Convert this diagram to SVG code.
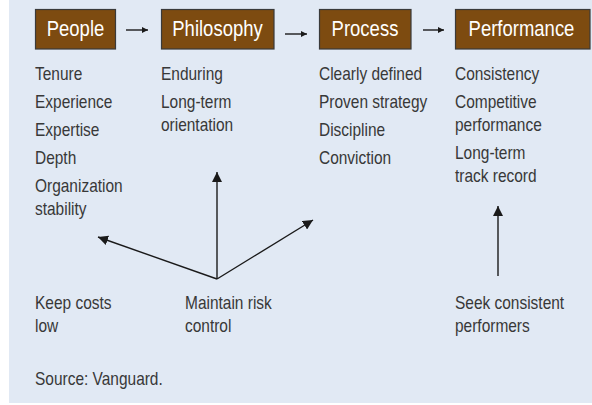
<svg xmlns="http://www.w3.org/2000/svg" width="592" height="405" viewBox="0 0 592 405">
  <style>
    .box { fill: #7d4b10; stroke: #3a3a3a; stroke-width: 1.2; }
    .title { font-family: "Liberation Sans", Arial, sans-serif; font-size: 21.5px; fill: #ffffff; text-anchor: middle; }
    .txt { font-family: "Liberation Sans", Arial, sans-serif; font-size: 18px; fill: #383838; }
    .small { stroke: #1a1a1a; stroke-width: 1.4; fill: none; }
    .link { stroke: #1a1a1a; stroke-width: 1.4; fill: none; }
  </style>
  <defs>
    <marker id="tip" viewBox="0 0 10 10" refX="10" refY="5" markerWidth="10" markerHeight="10" markerUnits="userSpaceOnUse" orient="auto">
      <path d="M0,0 L10,5 L0,10 Z" fill="#1a1a1a"/>
    </marker>
    <marker id="tipSmall" viewBox="0 0 10 10" refX="10" refY="5" markerWidth="7" markerHeight="6" markerUnits="userSpaceOnUse" orient="auto">
      <path d="M0,0 L10,5 L0,10 Z" fill="#1a1a1a"/>
    </marker>
  </defs>

  <!-- panel background -->
  <rect x="0" y="0" width="592" height="405" fill="#ffffff"/>
  <rect x="9" y="0" width="583" height="403" fill="#e1e9f4"/>

  <!-- text is set in a condensed face: horizontal scale 0.86, so x values are divided by 0.86 -->
  <g id="people">
    <rect class="box" x="35.5" y="9.5" width="80" height="39.5"/>
    <g transform="scale(0.86 1)">
      <text class="title" x="87.79" y="36">People</text>
      <text class="txt" x="40.70" y="80">Tenure</text>
      <text class="txt" x="40.70" y="108">Experience</text>
      <text class="txt" x="40.70" y="136">Expertise</text>
      <text class="txt" x="40.70" y="164">Depth</text>
      <text class="txt" x="40.70" y="192">Organization</text>
      <text class="txt" x="40.70" y="215">stability</text>
    </g>
  </g>

  <g id="philosophy">
    <rect class="box" x="161.5" y="9.5" width="112.5" height="39.5"/>
    <g transform="scale(0.86 1)">
      <text class="title" x="252.91" y="36">Philosophy</text>
      <text class="txt" x="187.21" y="80">Enduring</text>
      <text class="txt" x="187.21" y="108">Long-term</text>
      <text class="txt" x="187.21" y="131">orientation</text>
    </g>
  </g>

  <g id="process">
    <rect class="box" x="319.5" y="9.5" width="91.5" height="39.5"/>
    <g transform="scale(0.86 1)">
      <text class="title" x="424.42" y="36">Process</text>
      <text class="txt" x="370.93" y="80">Clearly defined</text>
      <text class="txt" x="370.93" y="108">Proven strategy</text>
      <text class="txt" x="370.93" y="136">Discipline</text>
      <text class="txt" x="370.93" y="164">Conviction</text>
    </g>
  </g>

  <g id="performance">
    <rect class="box" x="455.5" y="9.5" width="134.5" height="39.5"/>
    <g transform="scale(0.86 1)">
      <text class="title" x="606.40" y="36">Performance</text>
      <text class="txt" x="529.07" y="80">Consistency</text>
      <text class="txt" x="529.07" y="108">Competitive</text>
      <text class="txt" x="529.07" y="131">performance</text>
      <text class="txt" x="529.07" y="159">Long-term</text>
      <text class="txt" x="529.07" y="182">track record</text>
    </g>
  </g>

  <g id="keep-costs" transform="scale(0.86 1)">
    <text class="txt" x="40.70" y="309">Keep costs</text>
    <text class="txt" x="40.70" y="332">low</text>
  </g>

  <g id="risk-control" transform="scale(0.86 1)">
    <text class="txt" x="215.12" y="309">Maintain risk</text>
    <text class="txt" x="215.12" y="332">control</text>
  </g>

  <g id="consistent-performers" transform="scale(0.86 1)">
    <text class="txt" x="529.07" y="309">Seek consistent</text>
    <text class="txt" x="529.07" y="332">performers</text>
  </g>

  <g id="source" transform="scale(0.86 1)">
    <text class="txt" x="40.70" y="385">Source: Vanguard.</text>
  </g>

  <g id="connectors">
    <line class="small" x1="126" y1="30" x2="148" y2="30" marker-end="url(#tipSmall)"/>
    <line class="small" x1="285" y1="34" x2="307" y2="34" marker-end="url(#tipSmall)"/>
    <line class="small" x1="423" y1="30" x2="444" y2="30" marker-end="url(#tipSmall)"/>
    <line class="link" x1="217" y1="279" x2="98" y2="237" marker-end="url(#tip)"/>
    <line class="link" x1="217" y1="279" x2="217" y2="172" marker-end="url(#tip)"/>
    <line class="link" x1="217" y1="279" x2="313" y2="220" marker-end="url(#tip)"/>
    <line class="link" x1="498" y1="276" x2="498" y2="206" marker-end="url(#tip)"/>
  </g>
</svg>
